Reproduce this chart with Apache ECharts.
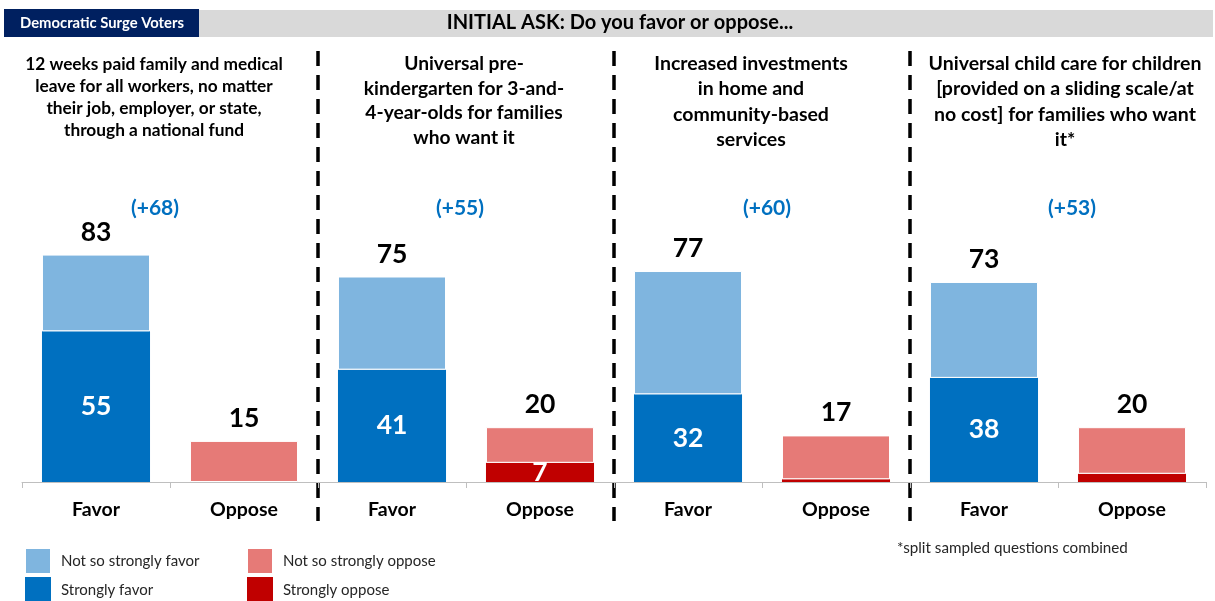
<!DOCTYPE html>
<html>
<head>
<meta charset="utf-8">
<script src="https://cdn.jsdelivr.net/npm/echarts@6/dist/echarts.min.js"></script>
<style>
  html, body { margin: 0; padding: 0; background: #ffffff; }
  #chart { width: 1215px; height: 601px; }
</style>
</head>
<body>
<div id="chart"></div>
<script>
// Categories along the single x axis: two bars per question
const categories = ['Favor', 'Oppose', 'Favor', 'Oppose', 'Favor', 'Oppose', 'Favor', 'Oppose'];

// Question wording shown above each pair of bars
const panelTitles = [
  ['12 weeks paid family and medical', 'leave for all workers, no matter', 'their job, employer, or state,', 'through a national fund'],
  ['Universal pre-', 'kindergarten for 3-and-', '4-year-olds for families', 'who want it'],
  ['Increased investments', 'in home and', 'community-based', 'services'],
  ['Universal child care for children', '[provided on a sliding scale/at', 'no cost] for families who want', 'it*']
];

// Percentages per question
const favorTotal   = [83, 75, 77, 73];
const strongFavor  = [55, 41, 32, 38];
const opposeTotal  = [15, 20, 17, 20];
const strongOppose = [0, 7, 1, 3];

const headerLeft  = 'Democratic Surge Voters';
const headerTitle = 'INITIAL ASK: Do you favor or oppose...';
const footnote    = '*split sampled questions combined';

const FONT = 'Lato, "Open Sans", "Liberation Sans", sans-serif';
const C = {
  lightBlue: '#7FB5DF',
  darkBlue: '#0070C0',
  lightRed: '#E67A77',
  darkRed: '#C00000',
  navy: '#002060',
  band: '#D9D9D9',
  axis: '#BFBFBF',
  net: '#0070C0'
};

// Series data: favour values sit on even categories, oppose values on odd ones
const onFavor  = arr => categories.map((c, i) => i % 2 === 0 ? arr[i / 2] : '-');
const onOppose = arr => categories.map((c, i) => i % 2 === 1 ? arr[(i - 1) / 2] : '-');

const notSoFavor  = favorTotal.map((t, i) => t - strongFavor[i]);
const notSoOppose = opposeTotal.map((t, i) => t - strongOppose[i]);

const totalLabel = {
  show: true,
  position: 'top',
  distance: 9,
  fontFamily: FONT,
  fontWeight: 'bold',
  fontSize: 26.5,
  color: '#000'
};

const legendBase = {
  orient: 'vertical',
  top: 547,
  height: 80,
  padding: 0,
  itemWidth: 26,
  itemHeight: 26,
  itemGap: 2,
  icon: 'rect',
  textStyle: { fontFamily: FONT, fontSize: 15, color: '#262626', padding: [0, 0, 0, 5] }
};

const chart = echarts.init(document.getElementById('chart'), null, { renderer: 'canvas' });

const option = {
  backgroundColor: '#ffffff',
  animation: false,
  grid: { left: 22, right: 9, top: 208, bottom: 119, containLabel: false },
  xAxis: {
    type: 'category',
    data: categories,
    axisLine: { show: true, lineStyle: { color: C.axis, width: 1 } },
    axisTick: { show: true, alignWithLabel: false, length: 6, lineStyle: { color: C.axis } },
    axisLabel: {
      margin: 18,
      fontFamily: FONT,
      fontWeight: 'bold',
      fontSize: 19.5,
      color: '#000'
    }
  },
  yAxis: {
    type: 'value',
    min: 0,
    max: 100,
    show: false,
    splitLine: { show: false }
  },
  legend: [
    Object.assign({}, legendBase, { left: 24, data: ['Not so strongly favor', 'Strongly favor'] }),
    Object.assign({}, legendBase, { left: 246, data: ['Not so strongly oppose', 'Strongly oppose'] })
  ],
  series: [
    {
      name: 'Strongly favor',
      type: 'bar',
      stack: 'all',
      barCategoryGap: '27%',
      data: onFavor(strongFavor),
      itemStyle: { color: C.darkBlue },
      label: {
        show: true,
        position: 'inside',
        fontFamily: FONT,
        fontWeight: 'bold',
        fontSize: 26.5,
        color: '#fff'
      }
    },
    {
      name: 'Not so strongly favor',
      type: 'bar',
      stack: 'all',
      data: onFavor(notSoFavor),
      itemStyle: { color: C.lightBlue, borderColor: '#fff', borderWidth: 1 },
      label: Object.assign({}, totalLabel, {
        formatter: p => String(favorTotal[p.dataIndex / 2])
      })
    },
    {
      name: 'Strongly oppose',
      type: 'bar',
      stack: 'all',
      data: onOppose(strongOppose),
      itemStyle: { color: C.darkRed },
      label: {
        show: true,
        position: 'inside',
        fontFamily: FONT,
        fontWeight: 'bold',
        fontSize: 26.5,
        color: '#fff',
        formatter: p => (p.value >= 5 ? String(p.value) : '')
      }
    },
    {
      name: 'Not so strongly oppose',
      type: 'bar',
      stack: 'all',
      data: onOppose(notSoOppose),
      itemStyle: { color: C.lightRed, borderColor: '#fff', borderWidth: 1 },
      label: Object.assign({}, totalLabel, {
        formatter: p => String(opposeTotal[(p.dataIndex - 1) / 2])
      })
    }
  ]
};

chart.setOption(option);

// Annotations placed from the axis scale: header, dividers, question text, net scores
const xAt = i => chart.convertToPixel({ xAxisIndex: 0 }, i);
const graphics = [];

// Header band
graphics.push({
  type: 'rect', shape: { x: 199, y: 10, width: 1014, height: 27 },
  style: { fill: C.band }, silent: true
});
graphics.push({
  type: 'rect', shape: { x: 4, y: 9, width: 195, height: 28 },
  style: { fill: C.navy }, silent: true
});
graphics.push({
  type: 'text', x: 102, y: 23,
  style: {
    text: headerLeft, fill: '#fff', font: 'bold 14.8px ' + FONT,
    textAlign: 'center', textVerticalAlign: 'middle'
  }
});
graphics.push({
  type: 'text', x: 620, y: 23,
  style: {
    text: headerTitle, fill: '#000', font: 'bold 20px ' + FONT,
    textAlign: 'center', textVerticalAlign: 'middle'
  }
});

// Dashed dividers between questions
for (let p = 1; p < panelTitles.length; p++) {
  const x = (xAt(2 * p - 1) + xAt(2 * p)) / 2;
  graphics.push({
    type: 'line',
    shape: { x1: x, y1: 51, x2: x, y2: 521 },
    style: { stroke: '#000', lineWidth: 3.5, lineDash: [15, 9] },
    silent: true
  });
}

// Question text and net favourability
const titleShift = [-16, -2, -11, 7];
const netShift = [-15, -6, 5, 14];
const titleSize = [17.3, 19.2, 19.5, 19.5];
const titleLead = [22.3, 24.5, 25.2, 25.2];
panelTitles.forEach((lines, p) => {
  const mid = (xAt(2 * p) + xAt(2 * p + 1)) / 2;
  lines.forEach((line, k) => {
    graphics.push({
      type: 'text',
      x: mid + titleShift[p],
      y: 64 + k * titleLead[p],
      style: {
        text: line, fill: '#000', font: 'bold ' + titleSize[p] + 'px ' + FONT,
        textAlign: 'center', textVerticalAlign: 'middle'
      }
    });
  });
  const net = favorTotal[p] - opposeTotal[p];
  graphics.push({
    type: 'text',
    x: mid + netShift[p],
    y: 208,
    style: {
      text: '(' + (net >= 0 ? '+' : '') + net + ')', fill: C.net,
      font: 'bold 21px ' + FONT, textAlign: 'center', textVerticalAlign: 'middle'
    }
  });
});

// Footnote
graphics.push({
  type: 'text', x: 897, y: 548,
  style: {
    text: footnote, fill: '#262626', font: '15.2px ' + FONT,
    textAlign: 'left', textVerticalAlign: 'middle'
  }
});

chart.setOption({ graphic: graphics });
</script>
</body>
</html>
